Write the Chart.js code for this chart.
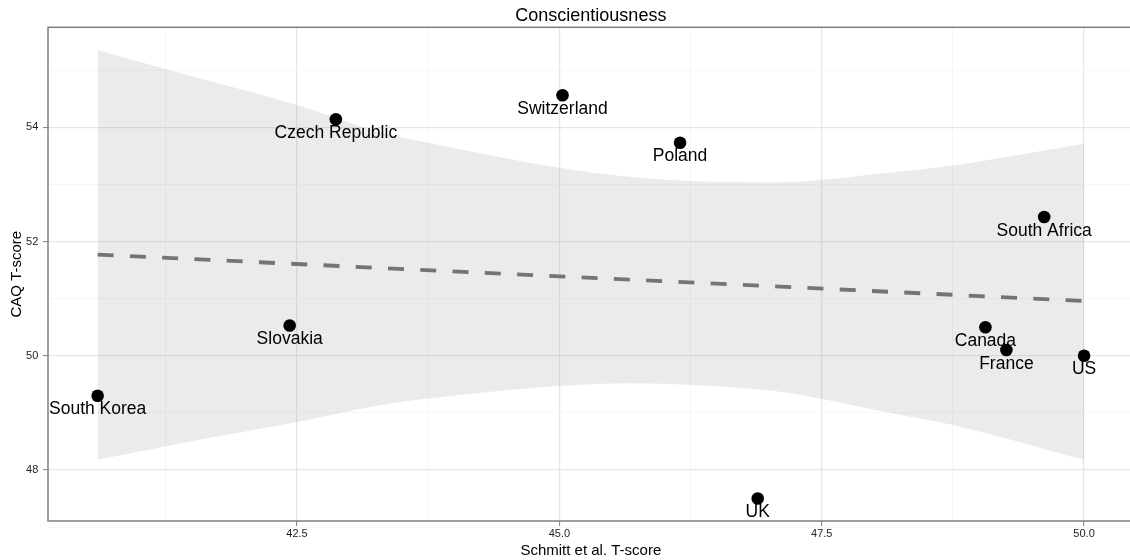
<!DOCTYPE html>
<html>
<head>
<meta charset="utf-8">
<script src="https://cdn.jsdelivr.net/npm/chart.js@4.4.1/dist/chart.umd.min.js"></script>
<style>
  html, body { margin: 0; padding: 0; background: #fff; overflow: hidden; }
  #wrap { width: 1140px; height: 560px; }
</style>
</head>
<body>
<div id="wrap"><canvas id="c" width="1140" height="560"></canvas></div>
<script>
// Country scores: Schmitt et al. T-score (x) against CAQ T-score (y)
const countries = ['South Korea', 'Czech Republic', 'Slovakia', 'Switzerland', 'Poland',
                   'UK', 'South Africa', 'Canada', 'France', 'US'];
const schmittT = [40.60, 42.87, 42.43, 45.03, 46.15, 46.89, 49.62, 49.06, 49.26, 50.00];
const caqT     = [49.30, 54.14, 50.53, 54.56, 53.73, 47.50, 52.43, 50.50, 50.10, 50.00];

// Linear fit end points
const fitX = [40.60, 50.00];
const fitY = [51.77, 50.96];

// Confidence band around the fit
const bandX     = [40.60, 41.57, 42.50, 43.28, 43.75, 45.00, 45.68, 46.25, 47.07, 48.16, 48.75, 50.00];
const bandUpper = [55.35, 54.86, 54.39, 53.92, 53.73, 53.29, 53.13, 53.06, 53.04, 53.21, 53.33, 53.71];
const bandLower = [48.18, 48.53, 48.84, 49.13, 49.25, 49.47, 49.52, 49.49, 49.38, 49.00, 48.79, 48.18];

// Axis ticks
const xMajorTicks = [42.5, 45.0, 47.5, 50.0];
const xMinorTicks = [41.25, 43.75, 46.25, 48.75];
const xTickLabels = ['42.5', '45.0', '47.5', '50.0'];
const yMajorTicks = [48, 50, 52, 54];
const yMinorTicks = [47, 49, 51, 53, 55];
const yTickLabels = ['48', '50', '52', '54'];

const FONT = "'Liberation Sans', Arial, Helvetica, sans-serif";
Chart.defaults.font.family = FONT;

const toXY = (xs, ys) => xs.map((x, i) => ({ x: x, y: ys[i] }));

// Country names written under each point
const pointLabels = {
  id: 'pointLabels',
  afterDatasetsDraw(chart) {
    const meta = chart.getDatasetMeta(0);
    const ctx = chart.ctx;
    ctx.save();
    ctx.font = '17.5px ' + FONT;
    ctx.fillStyle = '#000';
    ctx.textAlign = 'center';
    ctx.textBaseline = 'alphabetic';
    meta.data.forEach((pt, i) => ctx.fillText(countries[i], pt.x, pt.y + 18.7));
    ctx.restore();
  }
};

// Frame around the plotting panel
const panelBorder = {
  id: 'panelBorder',
  afterDraw(chart) {
    const a = chart.chartArea;
    const ctx = chart.ctx;
    ctx.save();
    ctx.strokeStyle = '#7f7f7f';
    ctx.lineWidth = 1.5;
    ctx.strokeRect(a.left, a.top, a.right - a.left, a.bottom - a.top);
    ctx.restore();
  }
};

const gridOpts = (majors) => ({
  color: c => (c.tick && majors.includes(c.tick.value)) ? '#e5e5e5' : '#f6f6f6',
  lineWidth: c => (c.tick && majors.includes(c.tick.value)) ? 1.2 : 1,
  tickColor: c => (c.tick && majors.includes(c.tick.value)) ? '#7f7f7f' : 'rgba(0,0,0,0)',
  tickLength: 5,
  tickWidth: 1
});

new Chart(document.getElementById('c'), {
  type: 'scatter',
  data: {
    datasets: [
      {
        label: 'Countries',
        data: toXY(schmittT, caqT),
        pointRadius: 6.3,
        pointBackgroundColor: '#000',
        pointBorderWidth: 0
      },
      {
        type: 'line',
        label: 'Fit',
        data: toXY(fitX, fitY),
        borderColor: '#747474',
        borderWidth: 3.8,
        borderDash: [16, 16.3],
        borderCapStyle: 'butt',
        pointRadius: 0,
        fill: false
      },
      {
        type: 'line',
        label: 'Upper',
        data: toXY(bandX, bandUpper),
        borderWidth: 0,
        borderColor: 'rgba(0,0,0,0)',
        pointRadius: 0,
        cubicInterpolationMode: 'monotone',
        backgroundColor: 'rgba(153,153,153,0.2)',
        fill: '+1'
      },
      {
        type: 'line',
        label: 'Lower',
        data: toXY(bandX, bandLower),
        borderWidth: 0,
        borderColor: 'rgba(0,0,0,0)',
        pointRadius: 0,
        cubicInterpolationMode: 'monotone',
        fill: false
      }
    ]
  },
  options: {
    responsive: false,
    animation: false,
    events: [],
    layout: { padding: { right: 2, left: 0, top: 0, bottom: 0 } },
    plugins: {
      legend: { display: false },
      tooltip: { enabled: false },
      title: {
        display: true,
        text: 'Conscientiousness',
        fullSize: false,
        color: '#000',
        font: { size: 18, weight: 'normal' },
        padding: { top: 5.5, bottom: 0.2 }
      }
    },
    scales: {
      x: {
        type: 'linear',
        min: 40.127,
        max: 50.473,
        afterBuildTicks: s => {
          s.ticks = [...xMinorTicks, ...xMajorTicks].sort((a, b) => a - b).map(v => ({ value: v }));
        },
        afterFit: s => { s.height = 39; },
        border: { display: false },
        grid: gridOpts(xMajorTicks),
        ticks: {
          autoSkip: false,
          maxRotation: 0,
          padding: 1.6,
          color: '#1e1e1e',
          font: { size: 11 },
          callback: v => {
            const k = xMajorTicks.indexOf(v);
            return k >= 0 ? xTickLabels[k] : '';
          }
        },
        title: {
          display: true,
          text: 'Schmitt et al. T-score',
          color: '#000',
          font: { size: 15 },
          padding: { top: 3, bottom: 0 }
        }
      },
      y: {
        type: 'linear',
        min: 47.107,
        max: 55.751,
        afterBuildTicks: s => {
          s.ticks = [...yMinorTicks, ...yMajorTicks].sort((a, b) => a - b).map(v => ({ value: v }));
        },
        afterFit: s => { s.width = 48; },
        border: { display: false },
        grid: gridOpts(yMajorTicks),
        ticks: {
          autoSkip: false,
          padding: 4.7,
          color: '#1e1e1e',
          font: { size: 11 },
          callback: v => {
            const k = yMajorTicks.indexOf(v);
            return k >= 0 ? yTickLabels[k] : '';
          }
        },
        title: {
          display: true,
          text: 'CAQ T-score',
          color: '#000',
          font: { size: 15 },
          padding: { top: 7.5, bottom: 0 }
        }
      }
    }
  },
  plugins: [pointLabels, panelBorder]
});
</script>
</body>
</html>
